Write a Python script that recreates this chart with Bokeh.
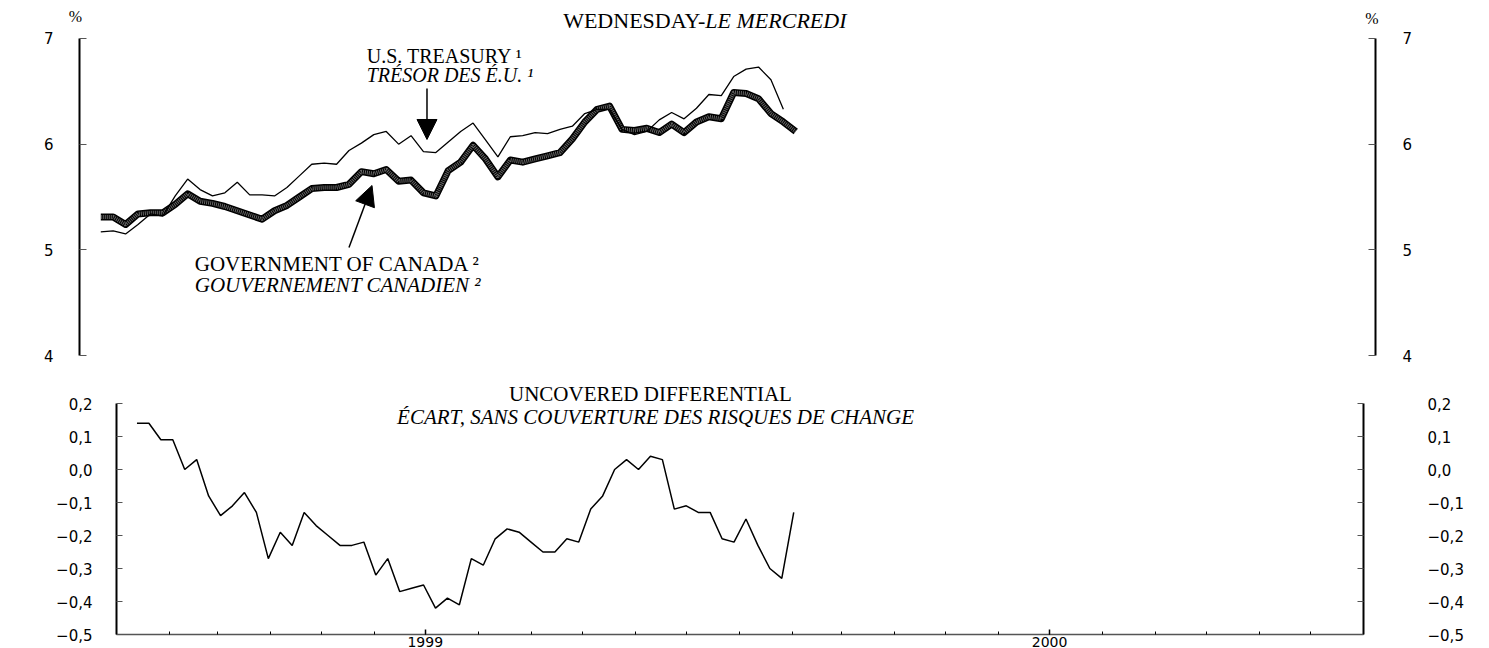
import pandas as pd
from bokeh.plotting import figure
from bokeh.models import (Range1d, LinearAxis, DatetimeAxis, FixedTicker,
                          DatetimeTickFormatter, Label, Arrow, NormalHead,
                          ColumnDataSource)
from bokeh.embed import file_html
from bokeh.resources import INLINE

# ---------------- data (weekly, Wednesdays) ----------------
dates = pd.date_range("1999-01-13", periods=57, freq="7D")

canada = [5.31, 5.31, 5.24, 5.34, 5.35, 5.35, 5.43, 5.53, 5.46, 5.44,
          5.41, 5.37, 5.33, 5.29, 5.37, 5.42, 5.50, 5.58, 5.59, 5.59,
          5.62, 5.74, 5.72, 5.76, 5.65, 5.66, 5.54, 5.51, 5.75, 5.83,
          5.99, 5.86, 5.69, 5.85, 5.83, 5.86, 5.89, 5.92, 6.05, 6.21,
          6.33, 6.36, 6.14, 6.13, 6.15, 6.11, 6.19, 6.11, 6.21, 6.26,
          6.24, 6.49, 6.48, 6.43, 6.29, 6.21, 6.12]

us_treasury = [5.17, 5.18, 5.15, 5.24, 5.34, 5.32, 5.51, 5.67, 5.57, 5.51,
               5.54, 5.64, 5.52, 5.52, 5.51, 5.59, 5.70, 5.81, 5.82, 5.81,
               5.94, 6.01, 6.09, 6.12, 6.00, 6.08, 5.93, 5.92, 6.02, 6.12,
               6.20, 6.04, 5.88, 6.07, 6.08, 6.11, 6.10, 6.14, 6.17, 6.29,
               6.33, 6.33, 6.14, 6.09, 6.12, 6.23, 6.30, 6.24, 6.34, 6.47,
               6.46, 6.64, 6.71, 6.73, 6.61, 6.33]

differential = [0.14, 0.14, 0.09, 0.09, 0.00, 0.03, -0.08, -0.14, -0.11, -0.07,
                -0.13, -0.27, -0.19, -0.23, -0.13, -0.17, -0.20, -0.23, -0.23, -0.22,
                -0.32, -0.27, -0.37, -0.36, -0.35, -0.42, -0.39, -0.41, -0.27, -0.29,
                -0.21, -0.18, -0.19, -0.22, -0.25, -0.25, -0.21, -0.22, -0.12, -0.08,
                0.00, 0.03, 0.00, 0.04, 0.03, -0.12, -0.11, -0.13, -0.13, -0.21,
                -0.22, -0.15, -0.23, -0.30, -0.33, -0.13]

top_ticks = [4, 5, 6, 7]
diff_ticks = [-0.5, -0.4, -0.3, -0.2, -0.1, 0.0, 0.1, 0.2]
diff_labels = ["\u22120,5", "\u22120,4", "\u22120,3", "\u22120,2", "\u22120,1",
               "0,0", "0,1", "0,2"]
year_labels_at = ["1999-07-01", "2000-07-01"]


def ms(s):
    return pd.Timestamp(s).value / 1e6


X0, X1 = "1999-01-01", "2001-01-01"
SERIF = "Liberation Serif"
SANS = "DejaVu Sans"

src_ca = ColumnDataSource(dict(date=dates, y=canada))
src_us = ColumnDataSource(dict(date=dates[:len(us_treasury)], y=us_treasury))
src_df = ColumnDataSource(dict(date=dates[:len(differential)], y=differential))

# ---------------- top chart ----------------
# frame spans page x 40..1440, y 0..365 ; axes drawn at Jan-1999 / Jan-2001
TOP_PX = 105.67  # pixels per percentage point
ms_per_px = (ms(X1) - ms(X0)) / 1296.0
top_x_range = Range1d(ms(X0) - 39 * ms_per_px, ms(X1) + 65 * ms_per_px)
top_y_range = Range1d(4 - 10 / TOP_PX, 7 + 38 / TOP_PX)

p1 = figure(frame_width=1400, frame_height=365,
            min_border_left=40, min_border_right=40,
            min_border_top=0, min_border_bottom=10,
            x_range=top_x_range, y_range=top_y_range,
            x_axis_location=None, y_axis_location="left",
            output_backend="svg", toolbar_location=None,
            outline_line_color=None, background_fill_color="white",
            border_fill_color="white")
p1.grid.visible = False


def style_y(ax, standoff, tick_in=7, align=None):
    ax.axis_line_width = 2
    ax.axis_line_color = "black"
    ax.major_tick_in = tick_in
    ax.major_tick_out = 0
    ax.minor_tick_in = 0
    ax.minor_tick_out = 0
    ax.major_tick_line_color = "#555555"
    ax.major_label_standoff = standoff
    ax.major_label_text_font = SANS
    ax.major_label_text_font_size = "15px"
    ax.major_label_text_color = "black"
    if align:
        ax.major_label_text_align = align


yl = p1.yaxis[0]
yl.ticker = FixedTicker(ticks=top_ticks)
yl.bounds = (4, 7)
yl.fixed_location = ms(X0)
style_y(yl, 26)
yr = LinearAxis(ticker=FixedTicker(ticks=top_ticks), bounds=(4, 7),
                fixed_location=ms(X1))
style_y(yr, 27)
p1.add_layout(yr, "right")

# Government of Canada: thick hatched ribbon
p1.line("date", "y", source=src_ca, line_color="black", line_width=7,
        line_join="round")
p1.line("date", "y", source=src_ca, line_color="white", line_width=4,
        line_dash="1 1", line_alpha=0.4)
# U.S. Treasury: thin line
p1.line("date", "y", source=src_us, line_color="black", line_width=1.3)


def ty(py):
    """page-pixel row -> value on the top chart (annotation placement)"""
    return 7 - (py - 38) / TOP_PX


def lab(plot, x, y, text, size, style="normal", align="left",
        baseline="middle"):
    plot.add_layout(Label(x=x, y=y, text=text, text_font=SERIF,
                          text_font_size=size, text_font_style=style,
                          text_align=align, text_baseline=baseline,
                          text_color="black"))


lab(p1, ms("1999-12-20"), ty(20), "WEDNESDAY-", "22px", align="right",
    baseline="alphabetic")
lab(p1, ms("1999-12-20"), ty(20), "LE MERCREDI", "22px", style="italic",
    baseline="alphabetic")
lab(p1, ms("1998-12-29 18:00"), ty(16), "%", "16px", align="center")
lab(p1, ms("2000-12-30"), ty(18), "%", "16px", align="center")

lab(p1, ms("1999-06-12"), ty(56), "U.S. TREASURY \u00b9", "20px")
lab(p1, ms("1999-06-12"), ty(75), "TR\u00c9SOR DES \u00c9.U. \u00b9", "20px",
    style="italic")
lab(p1, ms("1999-03-07"), ty(264), "GOVERNMENT OF CANADA \u00b2", "21px")
lab(p1, ms("1999-03-07"), ty(285), "GOUVERNEMENT CANADIEN \u00b2", "21px",
    style="italic")

p1.add_layout(Arrow(end=NormalHead(size=20, fill_color="black",
                                   line_color="black"),
                    x_start=ms("1999-07-16"), y_start=ty(88),
                    x_end=ms("1999-07-16"), y_end=ty(139),
                    line_width=1.5, line_color="black"))
p1.add_layout(Arrow(end=NormalHead(size=20, fill_color="black",
                                   line_color="black"),
                    x_start=ms("1999-06-02"), y_start=ty(247),
                    x_end=ms("1999-06-15"), y_end=ty(185),
                    line_width=1.5, line_color="black"))

# ---------------- bottom chart ----------------
# frame spans page x 116..1363, y 375..634 ; value 0.2 at y=403
BOT_PX = 330.0
p2 = figure(frame_width=1247, frame_height=259,
            min_border_left=116, min_border_right=117,
            min_border_top=0, min_border_bottom=14,
            x_range=Range1d(ms(X0), ms(X1)),
            y_range=Range1d(-0.5, 0.2 + 28 / BOT_PX),
            x_axis_location=None, y_axis_location="left",
            output_backend="svg", toolbar_location=None,
            outline_line_color=None, background_fill_color="white",
            border_fill_color="white")
p2.grid.visible = False

overrides = {t: l for t, l in zip(diff_ticks, diff_labels)}
bl = p2.yaxis[0]
bl.ticker = FixedTicker(ticks=diff_ticks)
bl.major_label_overrides = overrides
bl.bounds = (-0.5, 0.2)
style_y(bl, 24, tick_in=6)
br = LinearAxis(ticker=FixedTicker(ticks=diff_ticks),
                major_label_overrides=overrides, bounds=(-0.5, 0.2))
style_y(br, 64, tick_in=6, align="right")
p2.add_layout(br, "right")

months = [ms(d) for d in pd.date_range(X0, X1, freq="MS")]
fmt = DatetimeTickFormatter(days="%Y", months="%Y", years="%Y",
                            hours="%Y", hourmin="%Y", minutes="%Y")
xax = DatetimeAxis(ticker=FixedTicker(ticks=[ms(d) for d in year_labels_at],
                                      minor_ticks=months),
                   formatter=fmt,
                   major_tick_in=5, major_tick_out=0,
                   minor_tick_in=3, minor_tick_out=0,
                   major_tick_line_color="black", minor_tick_line_color="black",
                   major_tick_line_width=1.5,
                   axis_line_color="#555555", axis_line_width=1.5,
                   major_label_standoff=2, major_label_text_font=SANS,
                   major_label_text_font_size="14px",
                   major_label_text_color="black")
p2.add_layout(xax, "below")

p2.line("date", "y", source=src_df, line_color="black", line_width=1.5)


def by(py):
    """page-pixel row -> value on the bottom chart (annotation placement)"""
    return 0.2 - (py - 403) / BOT_PX


lab(p2, ms("1999-11-10"), by(393), "UNCOVERED DIFFERENTIAL", "21px",
    align="center")
lab(p2, ms("1999-11-13"), by(416),
    "\u00c9CART, SANS COUVERTURE DES RISQUES DE CHANGE", "21px",
    style="italic", align="center")

open("out.html", "w").write(file_html([p1, p2], INLINE))
